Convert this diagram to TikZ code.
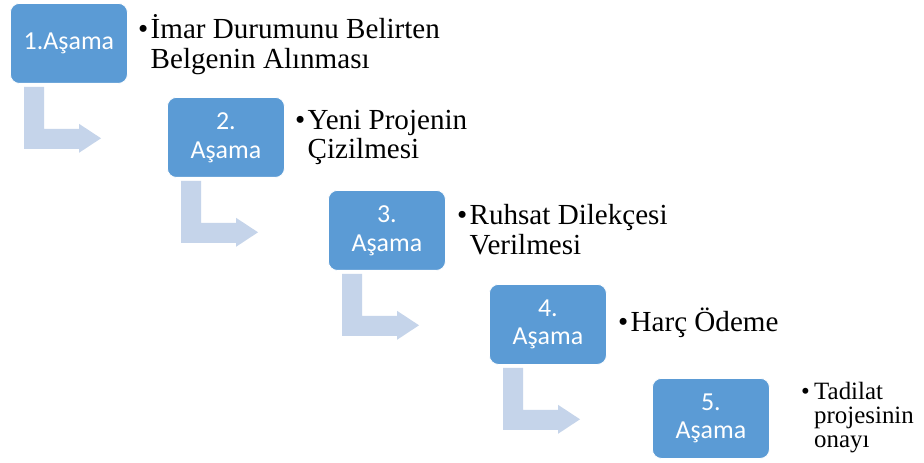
\documentclass[tikz,border=0pt]{standalone}
\usepackage{fontspec}
\setmainfont{Liberation Serif}
\newfontfamily\boxfont{Carlito}
\usetikzlibrary{calc}
\definecolor{boxblue}{HTML}{5B9BD5}
\definecolor{arrowblue}{HTML}{C5D4EA}
\tikzset{
  stagebox/.style={anchor=north west, minimum width=117bp, minimum height=80bp,
    inner sep=0pt, rounded corners=9bp, fill=boxblue, draw=white, line width=0.8bp,
    text=white, align=center, font=\boxfont\fontsize{26}{29}\selectfont},
  desc/.style={anchor=base west, inner sep=0pt, font=\fontsize{29.2}{29.5}\selectfont},
  descsmall/.style={anchor=base west, inner sep=0pt, font=\fontsize{25}{24.5}\selectfont},
  bentarrow/.style={fill=arrowblue}
}
\newcommand\bentarrowfrom[1]{%
  \fill[bentarrow] ($(#1.south west)+(14,3)$) -- ($(#1.south west)+(34,3)$)
    -- ($(#1.south west)+(34,45)$) -- ($(#1.south west)+(69,45)$)
    -- ($(#1.south west)+(69,40)$) -- ($(#1.south west)+(91,54.5)$)
    -- ($(#1.south west)+(69,69)$) -- ($(#1.south west)+(69,65)$)
    -- ($(#1.south west)+(14,65)$) -- cycle;}
\newcommand\bul{\makebox[12.5bp][l]{•}}
\begin{document}
\begin{tikzpicture}[x=1bp,y=-1bp]
\useasboundingbox[fill=white] (0,0) rectangle (924,463);
% stage boxes
\node[stagebox] (b1) at (10,3) {1.Aşama};
\node[stagebox] (b2) at (167,97) {2.\\Aşama};
\node[stagebox] (b3) at (328,190) {3.\\Aşama};
\node[stagebox] (b4) at (489,284) {4.\\Aşama};
\node[stagebox] (b5) at (652,378) {5.\\Aşama};
% bent arrows
\bentarrowfrom{b1}
\bentarrowfrom{b2}
\bentarrowfrom{b3}
\bentarrowfrom{b4}
% descriptions
\node[desc] (t1) at (138,39) {\begin{tabular}[t]{@{}l@{}l@{}}\bul&İmar Durumunu Belirten\\&Belgenin Alınması\end{tabular}};
\node[desc] (t2) at (295,129.5) {\begin{tabular}[t]{@{}l@{}l@{}}\bul&Yeni Projenin\\&Çizilmesi\end{tabular}};
\node[desc] (t3) at (457,225) {\begin{tabular}[t]{@{}l@{}l@{}}\bul&Ruhsat Dilekçesi\\&Verilmesi\end{tabular}};
\node[desc] (t4) at (618,332) {\begin{tabular}[t]{@{}l@{}l@{}}\bul&Harç Ödeme\end{tabular}};
\node[descsmall] (t5) at (801,399) {\begin{tabular}[t]{@{}l@{}l@{}}\makebox[13bp][l]{•}&Tadilat\\&projesinin\\&onayı\end{tabular}};
\end{tikzpicture}
\end{document}
